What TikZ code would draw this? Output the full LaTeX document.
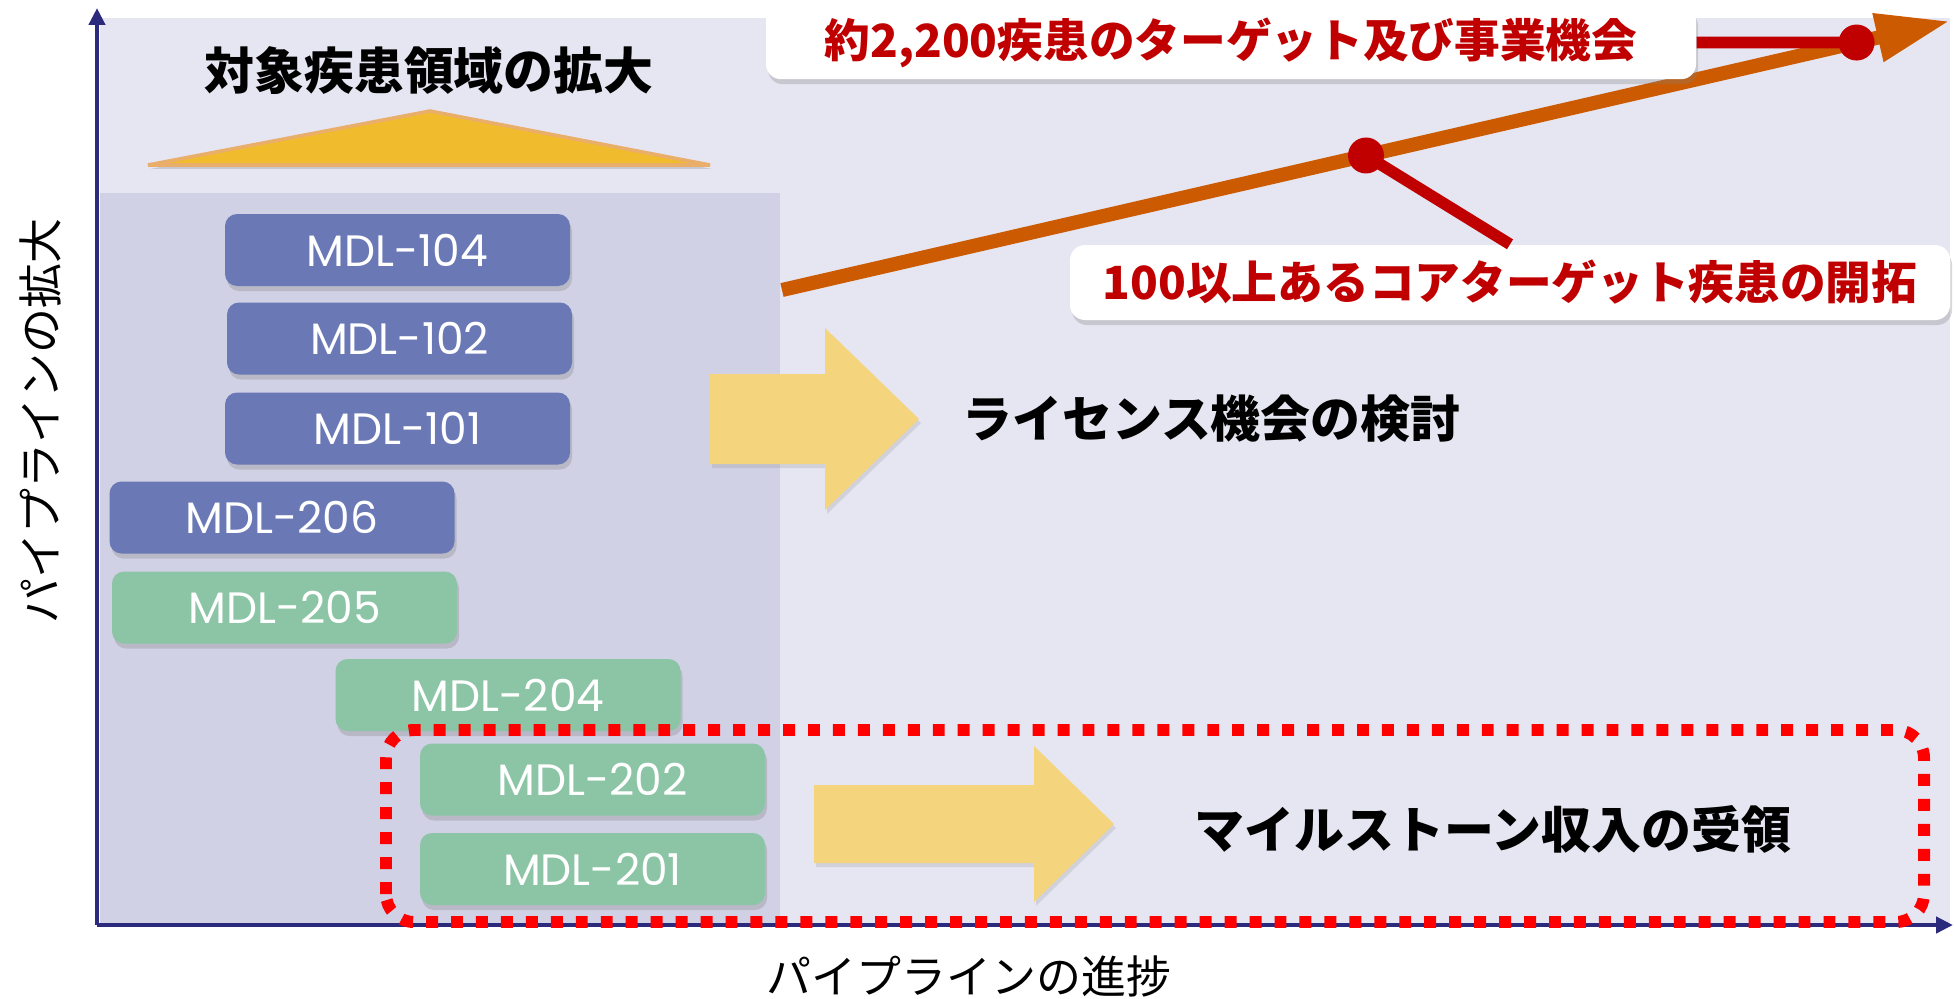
\documentclass[tikz,border=0pt]{standalone}
\usepackage{fontspec}
\usepackage{tikz}
\usetikzlibrary{calc,shapes,arrows,arrows.meta,shadows,positioning}
\newfontfamily\jpfont{Noto Sans CJK JP}
\newfontfamily\mdlfont{Poppins}
\definecolor{bglight}{HTML}{E6E6F2}
\definecolor{bgdark}{HTML}{D1D1E6}
\definecolor{axisblue}{HTML}{2B2A7C}
\definecolor{mdlblue}{HTML}{6A79B5}
\definecolor{mdlgreen}{HTML}{8BC5A5}
\definecolor{growyellow}{HTML}{F0BC2E}
\definecolor{growedge}{HTML}{E9AE6A}
\definecolor{blockyellow}{HTML}{F4D57E}
\definecolor{trendorange}{HTML}{CC5A00}
\definecolor{markred}{HTML}{C00000}
\definecolor{dotred}{HTML}{FF0000}
\tikzset{%
    axis/.style={%
        draw=axisblue, line width=1.3pt, -{Triangle[width=0.16cm,length=0.17cm]}
    },
    mdl_block/.style={%
        rectangle, rounded corners=0.12cm, minimum width=3.45cm, minimum height=0.72cm,
        text=white, font=\mdlfont\fontsize{12.5pt}{15pt}\selectfont,
        drop shadow={shadow xshift=0.02cm, shadow yshift=-0.05cm, opacity=0.3}
    },
    pipe_blue/.style={%
        mdl_block, fill=mdlblue
    },
    pipe_green/.style={%
        mdl_block, fill=mdlgreen
    },
    callout/.style={%
        rectangle, rounded corners=0.15cm, fill=white, text=markred,
        font=\jpfont\bfseries\fontsize{13pt}{15pt}\selectfont,
        drop shadow={shadow xshift=0.02cm, shadow yshift=-0.05cm, opacity=0.3}
    },
    marker/.style={%
        circle, fill=markred, minimum size=0.36cm, inner sep=0pt
    },
    leader/.style={%
        draw=markred, line width=3.3pt
    },
    trend/.style={%
        draw=trendorange, line width=4pt, -{Triangle[width=0.46cm,length=0.74cm]}
    },
    heading/.style={%
        font=\jpfont\bfseries\fontsize{14.2pt}{16pt}\selectfont
    },
    axis_label/.style={%
        font=\jpfont\fontsize{12.8pt}{15pt}\selectfont
    },
    block_arrow/.style={%
        fill=blockyellow, drop shadow={shadow xshift=0.02cm, shadow yshift=-0.04cm, opacity=0.2}
    },
    growth/.style={%
        fill=growyellow, draw=growedge, line width=1pt,
        drop shadow={shadow xshift=0.02cm, shadow yshift=-0.04cm, opacity=0.3}
    },
    milestone/.style={%
        draw=dotred, line width=3.4pt, dash pattern=on 3.4pt off 3.7pt, rounded corners=0.28cm
    },
}

\begin{document}
\begin{tikzpicture}
      \useasboundingbox (0,0) rectangle (19.55,9.98);
      \fill[bglight] (1.00,0.75) rectangle (19.50,9.80);
      \fill[bgdark] (1.00,0.75) rectangle (7.80,8.05);

      \coordinate (origin) at (0.97,0.73);
      \coordinate (ytop) at (0.97,9.90);
      \coordinate (xend) at (19.53,0.73);
      \draw[axis] (origin) -- (ytop);
      \draw[axis] (origin) -- (xend);

      \filldraw[growth] (1.48,8.33) -- (4.30,8.87) -- (7.10,8.33) -- cycle;
      \node[heading] (scope_title) at (4.29,9.27) {対象疾患領域の拡大};

      \node[pipe_blue] (mdl104) at (3.975,7.48) {MDL-104};
      \node[pipe_blue] (mdl102) at (3.995,6.595) {MDL-102};
      \node[pipe_blue] (mdl101) at (3.975,5.695) {MDL-101};
      \node[pipe_blue] (mdl206) at (2.82,4.805) {MDL-206};
      \node[pipe_green] (mdl205) at (2.845,3.905) {MDL-205};
      \node[pipe_green] (mdl204) at (5.08,3.03) {MDL-204};
      \node[pipe_green] (mdl202) at (5.925,2.185) {MDL-202};
      \node[pipe_green] (mdl201) at (5.925,1.29) {MDL-201};

      \fill[block_arrow] (7.10,5.34) -- (8.25,5.34) -- (8.25,4.88) -- (9.19,5.79)
            -- (8.25,6.70) -- (8.25,6.24) -- (7.10,6.24) -- cycle;
      \node[heading, anchor=west] (license_txt) at (9.50,5.79) {ライセンス機会の検討};

      \fill[block_arrow] (8.14,1.35) -- (10.34,1.35) -- (10.34,0.96) -- (11.14,1.74)
            -- (10.34,2.52) -- (10.34,2.13) -- (8.14,2.13) -- cycle;
      \node[heading] (milestone_txt) at (14.93,1.69) {マイルストーン収入の受領};

      \draw[milestone] (3.86,0.76) rectangle (19.24,2.68);

      \coordinate (trend_start) at (7.82,7.08);
      \coordinate (trend_end) at (19.50,9.77);
      \draw[trend] (trend_start) -- (trend_end)
            node[marker, pos=0.5] (core) {}
            node[marker, pos=0.92] (total) {};

      \node[callout, minimum width=9.30cm, minimum height=0.73cm] (total_box) at (12.31,9.555) {約2,200疾患のターゲット及び事業機会};
      \node[callout, minimum width=8.80cm, minimum height=0.75cm] (core_box) at (15.10,7.155) {100以上あるコアターゲット疾患の開拓};
      \draw[leader] (total_box.east) -- (total.center);
      \draw[leader] (core.center) -- (core_box.north);

      \node[axis_label, rotate=90] (ylabel) at (0.40,5.77) {パイプラインの拡大};
      \node[axis_label] (xlabel) at (9.69,0.22) {パイプラインの進捗};
\end{tikzpicture}
\end{document}
